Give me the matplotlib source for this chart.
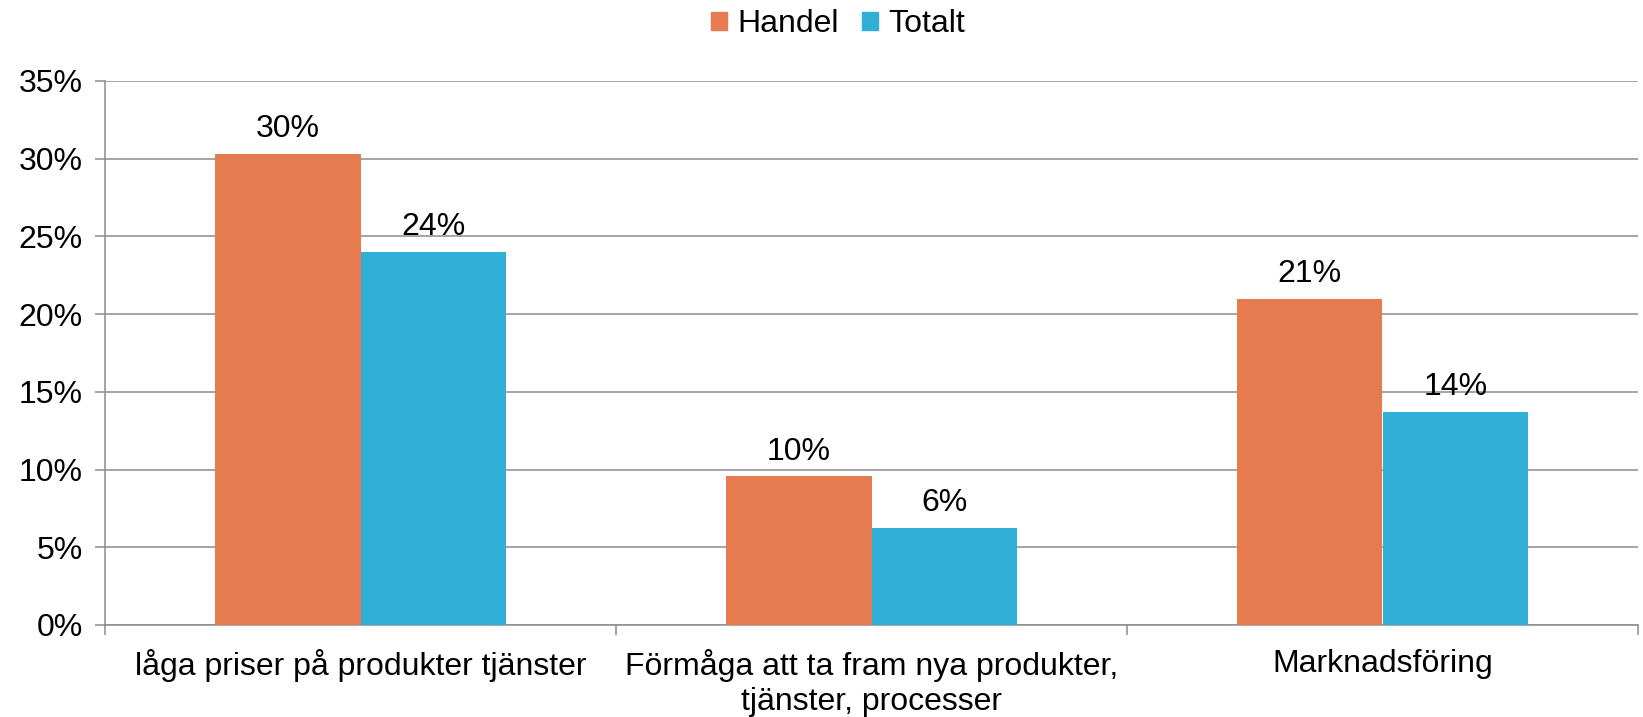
import matplotlib
matplotlib.use('Agg')
import matplotlib.pyplot as plt
import numpy as np
from matplotlib.patches import Patch
from matplotlib.ticker import FuncFormatter

categories = ["låga priser på produkter tjänster",
              "Förmåga att ta fram nya produkter,\ntjänster, processer",
              "Marknadsföring"]
handel = [0.303, 0.0956, 0.21]
totalt = [0.2403, 0.0626, 0.1373]
handel_labels = ["30%", "10%", "21%"]
totalt_labels = ["24%", "6%", "14%"]
series_names = ["Handel", "Totalt"]

ORANGE = '#E67B50'
BLUE = '#31AFD6'
GRID = '#8C8C8C'

plt.rcParams['font.family'] = ['Liberation Sans', 'DejaVu Sans']
FS = 23

fig = plt.figure(figsize=(16.43, 7.17), dpi=100)
ax = fig.add_axes([105 / 1643, 1 - 625 / 717, (1638 - 105) / 1643, (625 - 81) / 717])

x = np.arange(len(categories))
w = 0.285
b1 = ax.bar(x - w / 2, handel, w, color=ORANGE, zorder=3)
b2 = ax.bar(x + w / 2, totalt, w, color=BLUE, zorder=3)
ax.bar_label(b1, labels=handel_labels, padding=7, fontsize=FS)
ax.bar_label(b2, labels=totalt_labels, padding=7, fontsize=FS)

ax.set_ylim(0, 0.35)
ax.set_yticks(np.arange(0, 0.351, 0.05))
ax.yaxis.set_major_formatter(FuncFormatter(lambda v, p: f"{round(v * 100)}%"))
ax.set_xlim(-0.5, 2.5)
ax.set_xticks(x)
ax.set_xticklabels(categories, fontsize=FS, linespacing=1.25)
ax.set_xticks([-0.5, 0.5, 1.5, 2.5], minor=True)
ax.tick_params(axis='x', which='major', length=0, pad=17)
ax.tick_params(axis='x', which='minor', length=7, width=1.1, color=GRID)
ax.tick_params(axis='y', length=7, width=1.1, color=GRID, labelsize=FS, pad=9)

ax.grid(axis='y', color=GRID, linewidth=1.1, zorder=0)
for s in ['top', 'right']:
    ax.spines[s].set_visible(False)
for s in ['left', 'bottom']:
    ax.spines[s].set_color(GRID)
    ax.spines[s].set_linewidth(1.1)

handles = [Patch(color=ORANGE), Patch(color=BLUE)]
fig.legend(handles, series_names, loc='center', bbox_to_anchor=(838 / 1643, 1 - 24 / 717),
           ncol=2, frameon=False, fontsize=FS, handlelength=0.5, handleheight=0.5,
           handletextpad=0.3, columnspacing=0.75, borderpad=0)

fig.savefig('out.png', dpi=100)
